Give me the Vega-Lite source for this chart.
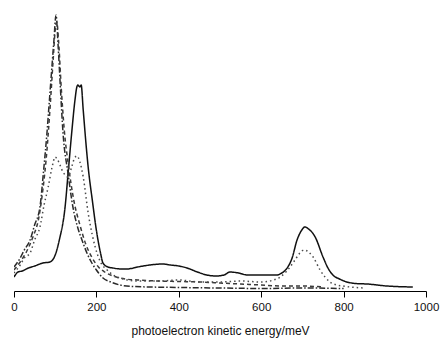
{
  "$schema": "https://vega.github.io/schema/vega-lite/v6.json",
  "width": 412,
  "height": 286,
  "autosize": {"type": "none"},
  "padding": {"left": 14, "right": 14, "top": 5, "bottom": 50},
  "background": "white",
  "config": {"view": {"stroke": null}},
  "data": {"values": [
    {"s":"solid","x":0,"y":14},{"s":"solid","x":10,"y":19},{"s":"solid","x":20,"y":20},{"s":"solid","x":35,"y":23},{"s":"solid","x":50,"y":25},{"s":"solid","x":70,"y":28},{"s":"solid","x":87,"y":29},{"s":"solid","x":100,"y":36},{"s":"solid","x":110,"y":51},{"s":"solid","x":124,"y":84},{"s":"solid","x":132,"y":121},{"s":"solid","x":140,"y":158},{"s":"solid","x":148,"y":191},{"s":"solid","x":152,"y":203},{"s":"solid","x":155,"y":206},{"s":"solid","x":160,"y":204},{"s":"solid","x":163,"y":206},{"s":"solid","x":168,"y":181},{"s":"solid","x":175,"y":146},{"s":"solid","x":180,"y":124},{"s":"solid","x":190,"y":91},{"s":"solid","x":201,"y":58},{"s":"solid","x":210,"y":38},{"s":"solid","x":216,"y":28},{"s":"solid","x":228,"y":24},{"s":"solid","x":240,"y":23},{"s":"solid","x":260,"y":22},{"s":"solid","x":274,"y":22},{"s":"solid","x":300,"y":24},{"s":"solid","x":330,"y":26},{"s":"solid","x":360,"y":27},{"s":"solid","x":379,"y":26},{"s":"solid","x":400,"y":25},{"s":"solid","x":420,"y":23},{"s":"solid","x":445,"y":19},{"s":"solid","x":468,"y":16},{"s":"solid","x":490,"y":15},{"s":"solid","x":510,"y":16},{"s":"solid","x":524,"y":19},{"s":"solid","x":545,"y":18},{"s":"solid","x":566,"y":16},{"s":"solid","x":600,"y":16},{"s":"solid","x":638,"y":16},{"s":"solid","x":650,"y":18},{"s":"solid","x":663,"y":23},{"s":"solid","x":675,"y":33},{"s":"solid","x":687,"y":51},{"s":"solid","x":697,"y":60},{"s":"solid","x":706,"y":64},{"s":"solid","x":715,"y":62},{"s":"solid","x":731,"y":54},{"s":"solid","x":750,"y":34},{"s":"solid","x":762,"y":23},{"s":"solid","x":774,"y":16},{"s":"solid","x":790,"y":12},{"s":"solid","x":808,"y":9},{"s":"solid","x":830,"y":7.5},{"s":"solid","x":857,"y":7},{"s":"solid","x":905,"y":5},{"s":"solid","x":968,"y":4},
    {"s":"dashdot","x":0,"y":24},{"s":"dashdot","x":15,"y":33},{"s":"dashdot","x":25,"y":41},{"s":"dashdot","x":39,"y":51},{"s":"dashdot","x":50,"y":66},{"s":"dashdot","x":63,"y":84},{"s":"dashdot","x":72,"y":121},{"s":"dashdot","x":80,"y":158},{"s":"dashdot","x":86,"y":191},{"s":"dashdot","x":92,"y":224},{"s":"dashdot","x":97,"y":251},{"s":"dashdot","x":102,"y":276},{"s":"dashdot","x":107,"y":246},{"s":"dashdot","x":112,"y":208},{"s":"dashdot","x":119,"y":158},{"s":"dashdot","x":131,"y":118},{"s":"dashdot","x":143,"y":84},{"s":"dashdot","x":155,"y":63},{"s":"dashdot","x":165,"y":51},{"s":"dashdot","x":177,"y":38},{"s":"dashdot","x":189,"y":28},{"s":"dashdot","x":200,"y":21},{"s":"dashdot","x":216,"y":13},{"s":"dashdot","x":235,"y":9},{"s":"dashdot","x":257,"y":6},{"s":"dashdot","x":290,"y":4.5},{"s":"dashdot","x":330,"y":4},{"s":"dashdot","x":400,"y":3.5},{"s":"dashdot","x":500,"y":3},{"s":"dashdot","x":600,"y":2.5},{"s":"dashdot","x":700,"y":3},{"s":"dashdot","x":800,"y":2.5},
    {"s":"dashed","x":0,"y":21},{"s":"dashed","x":15,"y":29},{"s":"dashed","x":30,"y":39},{"s":"dashed","x":45,"y":53},{"s":"dashed","x":60,"y":73},{"s":"dashed","x":70,"y":101},{"s":"dashed","x":80,"y":141},{"s":"dashed","x":88,"y":186},{"s":"dashed","x":95,"y":231},{"s":"dashed","x":100,"y":261},{"s":"dashed","x":104,"y":269},{"s":"dashed","x":108,"y":251},{"s":"dashed","x":115,"y":201},{"s":"dashed","x":122,"y":161},{"s":"dashed","x":132,"y":126},{"s":"dashed","x":145,"y":91},{"s":"dashed","x":160,"y":66},{"s":"dashed","x":175,"y":46},{"s":"dashed","x":190,"y":33},{"s":"dashed","x":205,"y":24},{"s":"dashed","x":220,"y":19},{"s":"dashed","x":240,"y":15},{"s":"dashed","x":270,"y":12},{"s":"dashed","x":300,"y":11},{"s":"dashed","x":350,"y":10},{"s":"dashed","x":400,"y":9.5},{"s":"dashed","x":450,"y":9},{"s":"dashed","x":500,"y":8},{"s":"dashed","x":550,"y":7},{"s":"dashed","x":600,"y":6},{"s":"dashed","x":650,"y":5},{"s":"dashed","x":700,"y":5},{"s":"dashed","x":750,"y":4},
    {"s":"dotted","x":0,"y":18},{"s":"dotted","x":15,"y":26},{"s":"dotted","x":25,"y":33},{"s":"dotted","x":39,"y":38},{"s":"dotted","x":50,"y":51},{"s":"dotted","x":63,"y":64},{"s":"dotted","x":73,"y":86},{"s":"dotted","x":83,"y":104},{"s":"dotted","x":92,"y":123},{"s":"dotted","x":100,"y":134},{"s":"dotted","x":106,"y":131},{"s":"dotted","x":119,"y":119},{"s":"dotted","x":131,"y":114},{"s":"dotted","x":140,"y":124},{"s":"dotted","x":147,"y":133},{"s":"dotted","x":153,"y":135},{"s":"dotted","x":160,"y":129},{"s":"dotted","x":168,"y":114},{"s":"dotted","x":180,"y":78},{"s":"dotted","x":190,"y":56},{"s":"dotted","x":197,"y":44},{"s":"dotted","x":210,"y":29},{"s":"dotted","x":226,"y":21},{"s":"dotted","x":245,"y":15},{"s":"dotted","x":265,"y":12},{"s":"dotted","x":300,"y":10},{"s":"dotted","x":350,"y":10},{"s":"dotted","x":400,"y":11},{"s":"dotted","x":450,"y":9},{"s":"dotted","x":500,"y":9},{"s":"dotted","x":549,"y":10},{"s":"dotted","x":600,"y":9},{"s":"dotted","x":630,"y":11},{"s":"dotted","x":646,"y":14},{"s":"dotted","x":660,"y":19},{"s":"dotted","x":670,"y":24},{"s":"dotted","x":682,"y":31},{"s":"dotted","x":694,"y":38},{"s":"dotted","x":704,"y":41},{"s":"dotted","x":715,"y":39},{"s":"dotted","x":726,"y":34},{"s":"dotted","x":743,"y":21},{"s":"dotted","x":755,"y":14},{"s":"dotted","x":767,"y":9},{"s":"dotted","x":783,"y":6},{"s":"dotted","x":799,"y":5},{"s":"dotted","x":816,"y":4},{"s":"dotted","x":850,"y":3}
  ]},
  "mark": {"type": "line", "strokeWidth": 1.5, "interpolate": "monotone", "clip": true},
  "encoding": {
    "x": {
      "field": "x", "type": "quantitative",
      "scale": {"domain": [0, 1000], "nice": false},
      "axis": {
        "values": [0, 200, 400, 600, 800, 1000],
        "format": "d",
        "title": "photoelectron kinetic energy/meV",
        "grid": false,
        "domainColor": "#000", "tickColor": "#000", "tickSize": 6,
        "labelFont": "Liberation Sans", "labelFontSize": 11.5, "labelColor": "#111",
        "labelPadding": 4, "labelFlush": false,
        "titleFont": "Liberation Sans", "titleFontSize": 12, "titleFontWeight": "normal", "titleColor": "#111",
        "titlePadding": 13
      }
    },
    "y": {
      "field": "y", "type": "quantitative",
      "scale": {"domain": [0, 286], "nice": false, "zero": true},
      "axis": null
    },
    "color": {
      "field": "s", "type": "nominal",
      "scale": {"domain": ["solid", "dashdot", "dashed", "dotted"], "range": ["#111111", "#2a2a2a", "#3a3a3a", "#4a4a4a"]},
      "legend": null
    },
    "strokeDash": {
      "field": "s", "type": "nominal",
      "scale": {"domain": ["solid", "dashdot", "dashed", "dotted"], "range": [[1, 0], [6, 2, 1.5, 2], [4, 3], [1.5, 3]]},
      "legend": null
    }
  }
}
